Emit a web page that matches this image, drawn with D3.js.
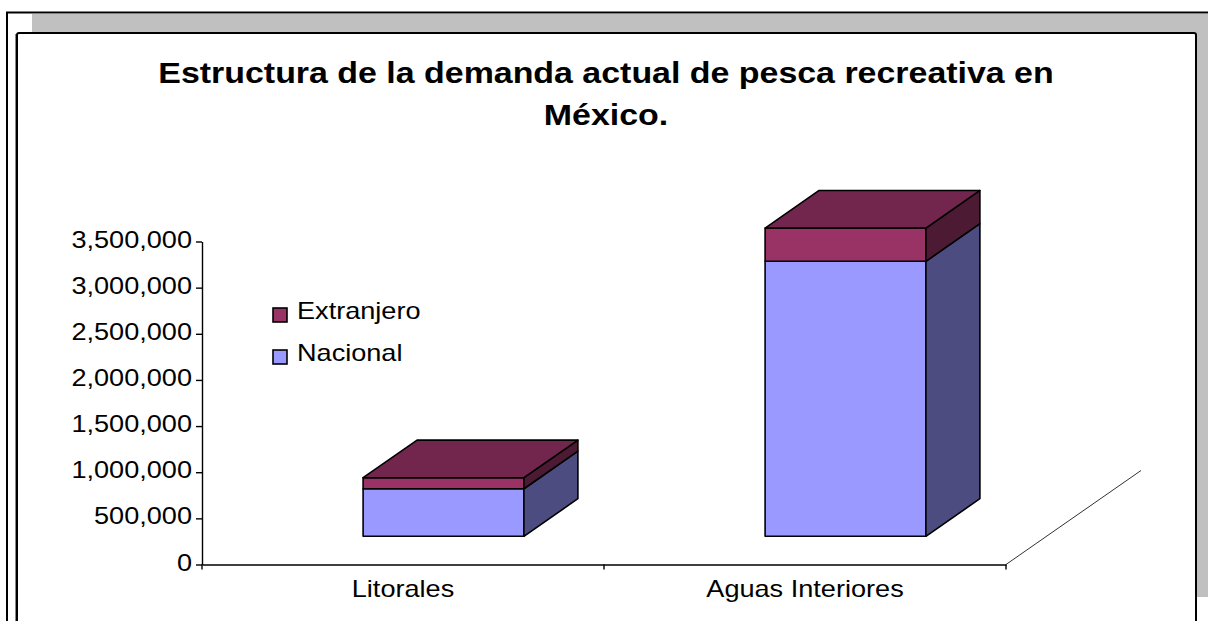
<!DOCTYPE html>
<html>
<head>
<meta charset="utf-8">
<script src="https://cdn.jsdelivr.net/npm/d3@7"></script>
<style>
  html, body { margin: 0; padding: 0; background: #fff; }
  svg { display: block; }
  text { font-family: "Liberation Sans", Arial, sans-serif; fill: #000; }
</style>
</head>
<body>
<svg id="chart" width="1208" height="621"></svg>
<script>
// ---- data ----
const categories = ["Litorales", "Aguas Interiores"];
const nacional = [515000, 2980000];
const extranjero = [120000, 360000];
const seriesKeys = ["Nacional", "Extranjero"];
const legendOrder = ["Extranjero", "Nacional"];
const yTicks = [0, 500000, 1000000, 1500000, 2000000, 2500000, 3000000, 3500000];
const titleLines = ["Estructura de la demanda actual de pesca recreativa en", "México."];

// ---- styles ----
const colors = {
  Nacional:   { front: "#9999FF", side: "#4C4C80", top: "#7373BF" },
  Extranjero: { front: "#993366", side: "#4D1A33", top: "#73264D" }
};
const SX = 1.13; // horizontal text stretch seen in the reference

const svg = d3.select("#chart");

// ---- frame ----
svg.append("rect").attr("x", 32).attr("y", 14).attr("width", 1176).attr("height", 583).attr("fill", "#C0C0C0");
svg.append("rect").attr("x", 17).attr("y", 33).attr("width", 1179).attr("height", 640)
  .attr("rx", 2).attr("fill", "#fff").attr("stroke", "#000").attr("stroke-width", 2);
svg.append("line").attr("x1", 15.5).attr("x2", 15.5).attr("y1", 34).attr("y2", 621).attr("stroke", "#888").attr("stroke-width", 1);
svg.append("line").attr("x1", 6).attr("x2", 1208).attr("y1", 12.5).attr("y2", 12.5).attr("stroke", "#000").attr("stroke-width", 2);
svg.append("line").attr("x1", 7).attr("x2", 7).attr("y1", 12).attr("y2", 621).attr("stroke", "#000").attr("stroke-width", 2);

// ---- title ----
titleLines.forEach((t, i) => {
  svg.append("text")
    .attr("transform", `translate(606,${83 + i * 42}) scale(1.17,1)`)
    .attr("text-anchor", "middle")
    .attr("font-size", 29).attr("font-weight", "bold")
    .text(t);
});

// ---- scales ----
const x = d3.scaleBand().domain(categories).range([202, 1006]).paddingInner(0).paddingOuter(0);
const y = d3.scaleLinear().domain([0, 3500000]).range([564.5, 241.5]);
const DEPTH = { dx: 135, dy: -94 };
const T0 = 0.3, T1 = 0.7;
const gapWidth = 1.5;
const bw = x.bandwidth() / (1 + gapWidth);
const proj = (px, v, t) => [px + t * DEPTH.dx, y(v) + t * DEPTH.dy];

// ---- axes ----
const yAxis = svg.append("g").attr("transform", "translate(202,0)")
  .call(d3.axisLeft(y).tickValues(yTicks).tickFormat(d3.format(",")).tickSize(6).tickSizeOuter(0).tickPadding(4));
yAxis.select(".domain").attr("stroke", "#000").attr("stroke-width", 1.4);
yAxis.selectAll(".tick line").attr("stroke", "#000").attr("stroke-width", 1.4);
yAxis.selectAll(".tick text")
  .attr("font-size", 24).attr("font-family", "'Liberation Sans', Arial, sans-serif").attr("fill", "#000")
  .attr("x", -10 / SX).attr("dy", "0.23em")
  .attr("transform", `scale(${SX},1)`);

const xAxis = svg.append("g").attr("transform", `translate(0,${y(0)})`)
  .call(d3.axisBottom(x).tickSize(0).tickSizeOuter(0).tickPadding(0));
xAxis.select(".domain").attr("stroke", "#000").attr("stroke-width", 1.4);
xAxis.selectAll(".tick text")
  .attr("font-size", 24).attr("font-family", "'Liberation Sans', Arial, sans-serif").attr("fill", "#000")
  .attr("y", 0).attr("dy", 0)
  .attr("transform", `translate(0,32.5) scale(${SX},1)`);
// boundary ticks (Excel style, between categories)
const boundaries = categories.map(c => x(c)).concat([x.range()[1]]);
svg.append("g").selectAll("line").data(boundaries).join("line")
  .attr("x1", d => d).attr("x2", d => d)
  .attr("y1", y(0)).attr("y2", y(0) + 5)
  .attr("stroke", "#000").attr("stroke-width", 1.4);

// floor edge (right)
const fr0 = proj(x.range()[1], 0, 0), fr1 = proj(x.range()[1], 0, 1);
svg.append("line").attr("x1", fr0[0]).attr("y1", fr0[1]).attr("x2", fr1[0]).attr("y2", fr1[1])
  .attr("stroke", "#333").attr("stroke-width", 1);

// ---- bars ----
const table = categories.map((c, i) => ({ cat: c, Nacional: nacional[i], Extranjero: extranjero[i] }));
const stacked = d3.stack().keys(seriesKeys)(table);
const barsG = svg.append("g");
const poly = pts => "M" + pts.map(p => p.join(",")).join("L") + "Z";

table.forEach((row, i) => {
  const xc = x(row.cat) + x.bandwidth() / 2;
  const xl = xc - bw / 2, xr = xc + bw / 2;
  stacked.forEach((layer, li) => {
    const [v0, v1] = layer[i];
    const col = colors[layer.key];
    const g = barsG.append("g").attr("stroke", "#000").attr("stroke-width", 1.6).attr("stroke-linejoin", "round");
    // front
    g.append("path").attr("fill", col.front)
      .attr("d", poly([proj(xl, v0, T0), proj(xr, v0, T0), proj(xr, v1, T0), proj(xl, v1, T0)]));
    // side
    g.append("path").attr("fill", col.side)
      .attr("d", poly([proj(xr, v0, T0), proj(xr, v0, T1), proj(xr, v1, T1), proj(xr, v1, T0)]));
    // top (only topmost)
    if (li === stacked.length - 1) {
      g.append("path").attr("fill", col.top)
        .attr("d", poly([proj(xl, v1, T0), proj(xr, v1, T0), proj(xr, v1, T1), proj(xl, v1, T1)]));
    }
  });
});

// ---- legend ----
const legend = svg.append("g");
legendOrder.forEach((k, i) => {
  const yy = 308 + i * 42;
  legend.append("rect").attr("x", 273).attr("y", yy).attr("width", 14).attr("height", 14)
    .attr("fill", colors[k].front).attr("stroke", "#000").attr("stroke-width", 1.6);
  legend.append("text")
    .attr("transform", `translate(297,${yy + 11}) scale(${SX},1)`)
    .attr("font-size", 24).text(k);
});
</script>
</body>
</html>
